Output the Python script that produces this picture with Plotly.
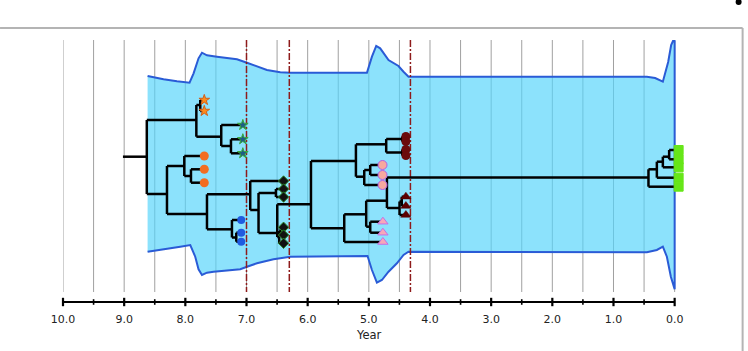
import plotly.graph_objects as go

# ---------------- data ----------------
axis_years = [10, 9, 8, 7, 6, 5, 4, 3, 2, 1, 0]
grid_years = [i * 0.5 for i in range(21)]
event_years = [7.0, 6.30, 4.32]
axis_title = "Year"

# skyline band (year, upper edge row, lower edge row)
band_up_year = [8.617, 8.356, 8.137, 7.931, 7.865, 7.784, 7.728, 7.646, 7.483, 7.156, 6.992,
                6.829, 6.666, 6.448, 6.285, 5.031, 4.949, 4.879, 4.814, 4.678, 4.596, 4.515,
                4.433, 4.351, 0.454, 0.319, 0.193, 0.106, 0.057, 0.02, 0.0]
band_up_row = [76, 79.3, 81.3, 82.7, 73.3, 58.3, 52.7, 55.3, 56.7, 59.3, 62.7,
               66.7, 70, 72.3, 72.7, 72.7, 56.7, 46, 48.3, 60, 63.3, 66,
               71.7, 76.7, 76.7, 78, 81.7, 62, 45, 40, 41]
band_lo_year = [8.617, 8.356, 8.083, 7.919, 7.838, 7.784, 7.728, 7.646, 7.538, 7.102, 6.992,
                6.829, 6.558, 6.285, 5.021, 4.949, 4.868, 4.786, 4.678, 4.541, 4.433, 4.351,
                0.454, 0.291, 0.193, 0.127, 0.062, 0.0]
band_lo_row = [251.7, 249.3, 246.7, 245, 256.7, 269.3, 275, 272.7, 271.7, 269.3, 266.7,
               263.3, 259.3, 256.7, 256, 270, 282.7, 280, 271.7, 263.3, 255, 251.7,
               252.3, 250, 246.7, 256.7, 276.7, 289.3]

# tree nodes
node_id = ["R0", "R", "A", "A1", "S1", "S2", "A2", "T1", "A3", "T2", "T3",
           "B", "B1", "O1", "B2", "O2", "O3", "C", "C1", "BL1", "C2", "BL2", "BL3",
           "D", "DM1", "D1", "D2", "DM2", "DM3", "D3", "D4", "DM6", "D5", "DM4", "DM5",
           "E", "F", "F1", "F1a", "RC1", "RC2", "F1b", "RC3", "RC4",
           "F2", "F2a", "PC1", "PC2", "PC3",
           "G", "H", "H1", "K", "Z5", "K1", "Z4", "K2", "Z3", "K3", "Z1", "Z2",
           "H2", "H2a", "RT1", "RT2", "RT3", "H3", "PT1", "PT2", "PT3"]
node_parent = [None, "R0", "R", "A", "A1", "A1", "A", "A2", "A2", "A3", "A3",
               "R", "B", "B1", "B1", "B2", "B2", "B", "C", "C1", "C1", "C2", "C2",
               "C", "D", "D", "D1", "D2", "D2", "D1", "D3", "D4", "D4", "D5", "D5",
               "D3", "E", "F", "F1", "F1a", "F1a", "F1", "F1b", "F1b",
               "F", "F2", "F2a", "F2a", "F2",
               "E", "G", "H", "H1", "K", "K", "K1", "K1", "K2", "K2", "K3", "K3",
               "H1", "H2", "H2a", "H2a", "H2", "H", "H3", "H3", "G"]
node_year = [9.02, 8.63, 7.82, 7.756, 7.69, 7.69, 7.413, 7.06, 7.254, 7.06, 7.06,
             8.30, 8.017, 7.69, 7.908, 7.69, 7.69, 7.646, 7.238, 7.086, 7.167, 7.086, 7.086,
             6.939, 6.394, 6.803, 6.519, 6.394, 6.394, 6.497, 6.465, 6.394, 6.44, 6.394, 6.394,
             5.946, 5.211, 4.716, 4.454, 4.394, 4.394, 4.454, 4.394, 4.394,
             5.075, 4.977, 4.776, 4.776, 4.776,
             5.402, 5.043, 4.704, 0.428, 0.0, 0.291, 0.0, 0.193, 0.0, 0.09, 0.0, 0.0,
             4.498, 4.462, 4.394, 4.394, 4.394, 4.977, 4.77, 4.77, 4.77]
node_row = [156.7, 156.7, 120, 105, 100, 111, 136.7, 125, 146, 139.3, 153.3,
            194, 166, 156, 176, 169.3, 182.7, 214, 229.3, 220, 237.5, 232.7, 241.7,
            194.3, 181, 210, 193, 189, 197, 233, 237, 243.3, 231, 227.3, 235,
            204.3, 161, 144.3, 139, 136.5, 141.5, 152.5, 149.5, 155.5,
            176.7, 170, 165, 175, 185,
            228.3, 214.3, 200.7, 177.5, 186.7, 169.3, 177.7, 161.7, 167.3, 156.7, 150, 159.3,
            208, 201.5, 196.7, 206, 215, 226.7, 221.7, 232.7, 242]

# tip groups (by sampling location)
group_tips = {
    "orange_star": ["S1", "S2"],
    "teal_star": ["T1", "T2", "T3"],
    "orange_circle": ["O1", "O2", "O3"],
    "blue_circle": ["BL1", "BL2", "BL3"],
    "black_diamond": ["DM1", "DM2", "DM3", "DM4", "DM5", "DM6"],
    "red_circle": ["RC1", "RC2", "RC3", "RC4"],
    "pink_circle": ["PC1", "PC2", "PC3"],
    "red_triangle": ["RT1", "RT2", "RT3"],
    "pink_triangle": ["PT1", "PT2", "PT3"],
    "green_bar": ["Z1", "Z2", "Z3", "Z4", "Z5"],
}

# ---------------- styles ----------------
group_style = {
    "orange_star": dict(symbol="star", color="#ff8c1a", line=dict(color="#d0601a", width=1), size=8),
    "teal_star": dict(symbol="star", color="#1d5c86", line=dict(color="#3aa83a", width=1), size=8),
    "orange_circle": dict(symbol="circle", color="#f26d21", line=dict(color="#f26d21", width=0), size=9),
    "blue_circle": dict(symbol="circle", color="#1f5be0", line=dict(color="#1f5be0", width=0), size=8),
    "black_diamond": dict(symbol="diamond", color="#111111", line=dict(color="#2e8b2e", width=1), size=8),
    "red_circle": dict(symbol="circle", color="#6b0c0c", line=dict(color="#6b0c0c", width=0), size=9),
    "pink_circle": dict(symbol="circle", color="#f7a89e", line=dict(color="#b05ee6", width=1), size=9),
    "red_triangle": dict(symbol="triangle-up", color="#5c0000", line=dict(color="#5c0000", width=0.5), size=9),
    "pink_triangle": dict(symbol="triangle-up", color="#f7a7b8", line=dict(color="#c070e8", width=1), size=9),
    "green_bar": dict(symbol="square", color="#66e619", line=dict(color="#66e619", width=1), size=9),
}
GREEN_OFFSET = -0.065  # bar drawn just to the right of the tips
X_EXTRA = 0.3          # empty room right of year 0 (for the tip bar)

Y_TOP, Y_BOT, Y_AX, Y_PLOT_BOT, Y_TITLE = 40, 292, 302, 304, 335

fig = go.Figure()

# vertical gridlines
gx, gy = [], []
for yr in grid_years:
    gx += [yr, yr, None]
    gy += [Y_TOP, Y_BOT, None]
fig.add_trace(go.Scatter(x=gx, y=gy, mode="lines", line=dict(color="#a0a0a0", width=1),
                         hoverinfo="skip", showlegend=False))

# skyline band
bx = band_up_year + band_lo_year[::-1]
by = band_up_row + band_lo_row[::-1]
fig.add_trace(go.Scatter(x=bx, y=by, mode="lines", fill="toself",
                         fillcolor="rgba(86,212,250,0.68)",
                         line=dict(color="#2a5bd6", width=2), hoverinfo="skip", showlegend=False))

# event lines
for ey in event_years:
    fig.add_trace(go.Scatter(x=[ey, ey], y=[Y_TOP, Y_BOT], mode="lines",
                             line=dict(color="#8e1b1b", width=1.5, dash="7px,2px,2px,2px"),
                             hoverinfo="skip", showlegend=False))

# tree
idx = {n: i for i, n in enumerate(node_id)}
children = {n: [] for n in node_id}
for n, p in zip(node_id, node_parent):
    if p is not None:
        children[p].append(n)
tx, ty = [], []
for i, n in enumerate(node_id):
    p = node_parent[i]
    if p is not None:
        j = idx[p]
        tx += [node_year[j], node_year[i], None]
        ty += [node_row[i], node_row[i], None]
    ch = children[n]
    if len(ch) > 1:
        rows = [node_row[idx[c]] for c in ch]
        tx += [node_year[i], node_year[i], None]
        ty += [min(rows), max(rows), None]
fig.add_trace(go.Scatter(x=tx, y=ty, mode="lines", line=dict(color="black", width=2.5),
                         hoverinfo="skip", showlegend=False))

# tip markers
for g, tips in group_tips.items():
    st = group_style[g]
    xs = [node_year[idx[t]] + (GREEN_OFFSET if g == "green_bar" else 0) for t in tips]
    ys = [node_row[idx[t]] for t in tips]
    fig.add_trace(go.Scatter(x=xs, y=ys, mode="markers", cliponaxis=False,
                             marker=dict(symbol=st["symbol"], color=st["color"], size=st["size"],
                                         line=st["line"]),
                             hoverinfo="skip", showlegend=False))

# time axis line and ticks (drawn from the tick values)
fig.add_trace(go.Scatter(x=[max(axis_years), min(axis_years)], y=[Y_AX, Y_AX], mode="lines",
                         line=dict(color="black", width=2), cliponaxis=False,
                         hoverinfo="skip", showlegend=False))
fig.add_trace(go.Scatter(x=axis_years, y=[Y_AX] * len(axis_years), mode="markers", cliponaxis=False,
                         marker=dict(symbol="line-ns", size=6, line=dict(color="black", width=2.2)),
                         hoverinfo="skip", showlegend=False))
minor_years = [v for v in grid_years if v != int(v)]
fig.add_trace(go.Scatter(x=minor_years, y=[Y_AX] * len(minor_years), mode="markers", cliponaxis=False,
                         marker=dict(symbol="line-ns", size=4, line=dict(color="black", width=1.6)),
                         hoverinfo="skip", showlegend=False))

# layout (pixel scale: 61.2 px per year)
W, H = 748, 351
L, T = 63, 40
PX_PER_YEAR = 61.2
plot_w = PX_PER_YEAR * (10 + X_EXTRA)
R = W - L - plot_w
B = H - Y_PLOT_BOT
pw, ph = plot_w, H - T - B


def px(x):
    return (x - L) / pw


def py(y):
    return (H - B - y) / ph


fig.add_shape(type="line", xref="paper", yref="paper", x0=px(0), x1=px(743), y0=py(28), y1=py(28),
              line=dict(color="#b4b4b4", width=2))
fig.add_shape(type="line", xref="paper", yref="paper", x0=px(743), x1=px(743), y0=py(28), y1=py(351),
              line=dict(color="#b4b4b4", width=2))
fig.add_shape(type="circle", xref="paper", yref="paper", x0=px(736), x1=px(742), y0=py(-1), y1=py(5),
              fillcolor="black", line=dict(color="black", width=0))

# axis title centred under the labelled axis span
fig.add_annotation(x=(max(axis_years) + min(axis_years)) / 2, y=py(Y_TITLE), xref="x", yref="paper",
                   text=axis_title, showarrow=False, xanchor="center", yanchor="middle",
                   font=dict(family="DejaVu Sans", size=11.5, color="#222"))

fig.update_layout(
    width=W, height=H, margin=dict(l=L, r=R, t=T, b=B, pad=0),
    paper_bgcolor="white", plot_bgcolor="white",
    font=dict(family="DejaVu Sans", size=11, color="#222"),
    xaxis=dict(range=[10, -X_EXTRA], tickvals=axis_years, ticktext=[f"{v:.1f}" for v in axis_years],
               showgrid=False, zeroline=False, showline=False, ticks="",
               ticklabelstandoff=7,
               tickfont=dict(family="DejaVu Sans", size=11, color="#222")),
    yaxis=dict(range=[Y_PLOT_BOT, Y_TOP], visible=False, showgrid=False, zeroline=False),
)

fig.write_html("out.html")
